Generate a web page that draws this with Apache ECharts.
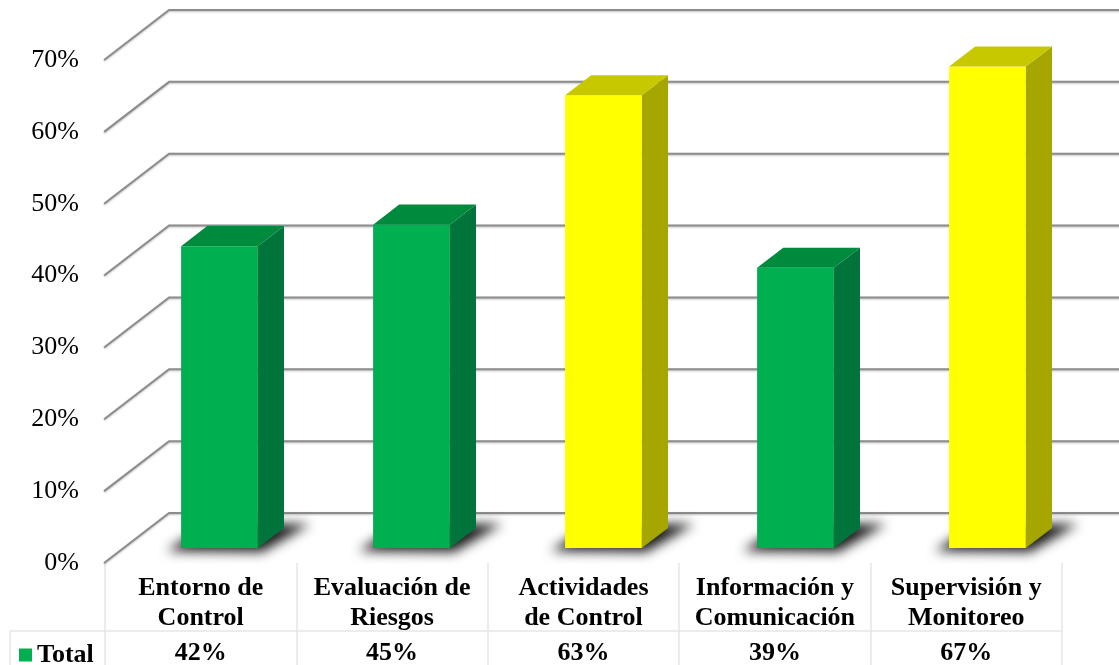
<!DOCTYPE html>
<html><head><meta charset="utf-8">
<script src="https://cdn.jsdelivr.net/npm/echarts@6/dist/echarts.min.js"></script>
<style>html,body{margin:0;padding:0;background:#fff}#c{width:1119px;height:665px}</style>
</head><body><div id="c"></div>
<script>
// ---- data ----
const categories = ['Entorno de\nControl', 'Evaluación de\nRiesgos', 'Actividades\nde Control', 'Información y\nComunicación', 'Supervisión y\nMonitoreo'];
const values = [0.42, 0.45, 0.63, 0.39, 0.67];
const valueLabels = ['42%', '45%', '63%', '39%', '67%'];
const barTone = ['green', 'green', 'yellow', 'green', 'yellow'];
const tickValues = [0, 0.1, 0.2, 0.3, 0.4, 0.5, 0.6, 0.7];
const seriesName = 'Total';

// ---- style ----
const palette = {
  green: { front: '#00B050', side: '#00743A', top: '#008A3E' },
  yellow: { front: '#FFFF00', side: '#A6A600', top: '#C8C800' }
};
const FONT = '"Liberation Serif", "Times New Roman", "DejaVu Serif", serif';
const FS = 26;
const WALL_BACK = [45.6, -35];  // bar plane -> back wall offset (px)
const WALL_FRONT = [-19.4, 15]; // bar plane -> front edge offset (px)
const SHIFT = 3000;

const chart = echarts.init(document.getElementById('c'), null, { renderer: 'canvas' });

function renderWall(params, api) {
  const cs = params.coordSys;
  const v = api.value(1);
  const y = api.coord([0, v])[1];
  const x0 = cs.x;
  return {
    type: 'polyline',
    shape: { points: [[x0 + WALL_FRONT[0], y + WALL_FRONT[1]], [x0 + WALL_BACK[0], y + WALL_BACK[1]], [cs.x + cs.width + 80, y + WALL_BACK[1]]] },
    style: { stroke: '#8C8C8C', lineWidth: 2, fill: null, shadowBlur: 2, shadowColor: 'rgba(0,0,0,0.25)', shadowOffsetY: 1 }
  };
}

function renderBar(params, api) {
  const i = api.value(0), v = api.value(1);
  const top = api.coord([i, v]), base = api.coord([i, 0]);
  const w = api.size([1, 0])[0] * 0.4;
  const xl = top[0] - w / 2, xr = top[0] + w / 2, yt = top[1], yb = base[1];
  const dx = w * 0.34, dy = -dx * 20 / 26;
  const c = palette[barTone[params.dataIndex]];
  const sh = [[xl - 14, yb + 3], [xr + 4, yb + 4], [xr + dx + 26, yb + dy - 4], [xl + dx, yb + dy - 4]]
    .map(p => [p[0] - SHIFT, p[1]]);
  return {
    type: 'group', children: [
      { type: 'polygon', shape: { points: sh },
        style: { fill: '#000', shadowBlur: 12, shadowColor: 'rgba(0,0,0,0.9)', shadowOffsetX: SHIFT } },
      { type: 'rect', shape: { x: xl, y: yt, width: w, height: yb - yt }, style: { fill: c.front } },
      { type: 'polygon', shape: { points: [[xr, yt], [xr + dx, yt + dy], [xr + dx, yb + dy], [xr, yb]] }, style: { fill: c.side } },
      { type: 'polygon', shape: { points: [[xl, yt], [xl + dx, yt + dy], [xr + dx, yt + dy], [xr, yt]] }, style: { fill: c.top } }
    ]
  };
}

function renderTableRow(params, api) {
  const cs = params.coordSys;
  const i = api.value(0);
  const p = api.coord([i, 0.11]);
  const lineY = api.coord([i, 1 / 3])[1];
  const children = [{
    type: 'text', style: { text: valueLabels[params.dataIndex], x: p[0], y: p[1], align: 'center', verticalAlign: 'middle',
      font: 'bold ' + FS + 'px ' + FONT, fill: '#000' }
  }];
  if (params.dataIndex === 0) {
    children.push({ type: 'line', shape: { x1: 10, y1: lineY, x2: cs.x + cs.width, y2: lineY }, style: { stroke: '#E6E6E6', lineWidth: 1.5 } });
    children.push({ type: 'line', shape: { x1: 10, y1: lineY, x2: 10, y2: cs.y + cs.height }, style: { stroke: '#E6E6E6', lineWidth: 1.5 } });
  }
  return { type: 'group', children };
}

chart.setOption({
  animation: false,
  backgroundColor: '#fff',
  legend: {
    data: [{ name: seriesName, icon: 'rect' }], left: 14, top: 637, itemWidth: 13, itemHeight: 13, itemGap: 4,
    textStyle: { fontFamily: FONT, fontWeight: 'bold', fontSize: FS, color: '#000', padding: [0, 0, 0, 0] }
  },
  grid: [
    { left: 123.5, right: 35.5, top: 45, bottom: 117 },   // bar plane
    { left: 105, right: 57, top: 563, bottom: 0 },        // data table
    { left: 103, right: 0, top: 60, bottom: 102 }         // front edge (axis labels)
  ],
  xAxis: [
    { gridIndex: 0, type: 'category', data: categories, show: false },
    { gridIndex: 1, type: 'category', data: categories, position: 'top',
      axisLine: { show: false }, axisTick: { show: false },
      axisLabel: { inside: true, margin: 10, interval: 0, fontFamily: FONT, fontWeight: 'bold', fontSize: FS, lineHeight: 30, color: '#000' },
      splitLine: { show: true, lineStyle: { color: '#E6E6E6', width: 1.5 } } },
    { gridIndex: 2, type: 'value', show: false }
  ],
  yAxis: [
    { gridIndex: 0, type: 'value', min: 0, max: 0.7, show: false },
    { gridIndex: 1, type: 'value', min: 0, max: 1, show: false },
    { gridIndex: 2, type: 'value', min: 0, max: 0.7, interval: 0.1,
      axisLine: { show: false }, axisTick: { show: false }, splitLine: { show: false },
      axisLabel: { margin: 24, fontFamily: FONT, fontSize: FS, color: '#000', formatter: v => Math.round(v * 100) + '%' } }
  ],
  series: [
    { type: 'custom', name: 'wall', xAxisIndex: 0, yAxisIndex: 0, renderItem: renderWall, z: 1, silent: true,
      data: tickValues.map(v => [0, v]), encode: { x: 0, y: 1 } },
    { type: 'custom', name: seriesName, xAxisIndex: 0, yAxisIndex: 0, renderItem: renderBar, z: 2,
      itemStyle: { color: palette.green.front },
      data: values.map((v, i) => [i, v]), encode: { x: 0, y: 1 } },
    { type: 'custom', name: 'table', xAxisIndex: 1, yAxisIndex: 1, renderItem: renderTableRow, z: 3, silent: true,
      data: values.map((v, i) => [i, 0]), encode: { x: 0, y: 1 } }
  ]
});
</script>
</body></html>
